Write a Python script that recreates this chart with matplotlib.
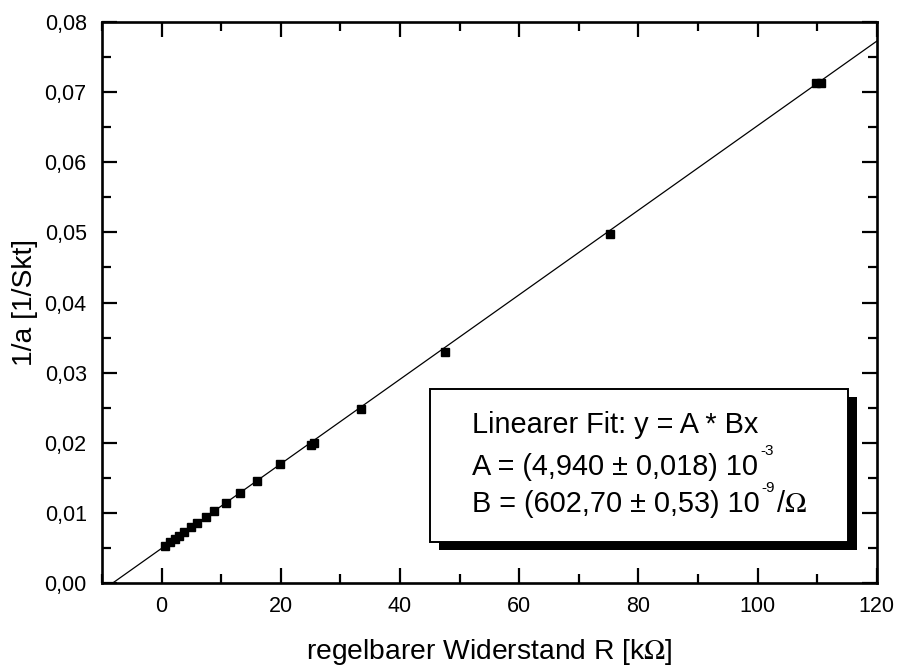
import numpy as np
import matplotlib.pyplot as plt
from matplotlib.patches import Rectangle
from matplotlib.ticker import MultipleLocator, FuncFormatter

plt.rcParams['font.family'] = ['Liberation Sans', 'DejaVu Sans']
plt.rcParams['mathtext.fontset'] = 'stix'

# Messwerte: regelbarer Widerstand R in kOhm, Kehrwert des Ausschlags 1/a
R_kohm = [0.5, 1.4, 2.2, 3.0, 3.8, 5.0, 5.9, 7.4, 8.8, 10.8, 13.2, 16.0,
          19.9, 25.0, 25.6, 33.5, 47.5, 75.2, 109.8, 110.6]
inv_a = [0.00527, 0.00578, 0.00627, 0.00675, 0.00722, 0.00795, 0.00850,
         0.00940, 0.01024, 0.01145, 0.01290, 0.01460, 0.01695, 0.01975,
         0.02000, 0.02480, 0.03300, 0.04980, 0.07130, 0.07130]

# Fitparameter aus dem linearen Fit
A = 4.940e-3
B = 602.70e-9  # pro Ohm

W, H = 901, 671
fig = plt.figure(figsize=(W / 100, H / 100), dpi=100)
ax = fig.add_axes([102 / W, 1 - 583 / H, 774.7 / W, 561 / H])

x_fit = np.array([-10.0, 120.0])
ax.plot(x_fit, A + B * 1e3 * x_fit, color='black', lw=0.9)
ax.plot(R_kohm, inv_a, ls='none', marker='s', ms=6.2, color='black')

ax.set_xlim(-10, 120)
ax.set_ylim(0, 0.08)
ax.xaxis.set_major_locator(MultipleLocator(20))
ax.xaxis.set_minor_locator(MultipleLocator(10))
ax.yaxis.set_major_locator(MultipleLocator(0.01))
ax.yaxis.set_minor_locator(MultipleLocator(0.005))
ax.yaxis.set_major_formatter(FuncFormatter(lambda v, p: f'{v:.2f}'.replace('.', ',')))

for s in ax.spines.values():
    s.set_linewidth(1.9)
ax.tick_params(which='both', direction='in', top=True, right=True,
               width=1.6, labelsize=15.5)
ax.tick_params(axis='x', pad=9)
ax.tick_params(axis='y', pad=11)
ax.tick_params(which='major', length=11)
ax.tick_params(which='minor', length=6.5)

ax.set_xlabel('regelbarer Widerstand R [k$\\Omega$]', fontsize=20.3, labelpad=15)
ax.set_ylabel('1/a [1/Skt]', fontsize=20.3, labelpad=5)

# Textkasten mit Schatten (Pixelkoordinaten -> Achsenanteile)
bx0, bx1 = (430 - 102) / 774.7, (848 - 102) / 774.7
by0, by1 = (583 - 542) / 561, (583 - 389) / 561
ax.add_patch(Rectangle((bx0 + 8.5 / 774.7, by0 - 8 / 561), bx1 - bx0, by1 - by0,
                       transform=ax.transAxes, facecolor='black',
                       edgecolor='none', zorder=4))
ax.add_patch(Rectangle((bx0, by0), bx1 - bx0, by1 - by0, transform=ax.transAxes,
                       facecolor='white', edgecolor='black', lw=1.4, zorder=5))


def fx(px):
    return px / W


def fy(py):
    return 1 - py / H


fit_lines = [('Linearer Fit: y = A * Bx', None, '', 433),
             ('A = (4,940 ± 0,018) 10', '-3', '', 475),
             ('B = (602,70 ± 0,53) 10', '-9', '/$\\Omega$', 512)]

fig.canvas.draw()
rend = fig.canvas.get_renderer()
for main, sup, tail, base in fit_lines:
    t = fig.text(fx(472), fy(base), main, fontsize=20.8, va='baseline',
                 ha='left', zorder=6)
    if sup is None:
        continue
    x_end = t.get_window_extent(rend).x1
    s = fig.text(fx(x_end + 2), fy(base - 20), sup, fontsize=11,
                 va='baseline', ha='left', zorder=6)
    if tail:
        x_end = s.get_window_extent(rend).x1
        fig.text(fx(x_end + 1), fy(base), tail, fontsize=20.8, va='baseline',
                 ha='left', zorder=6)

fig.savefig('out.png', dpi=100)
